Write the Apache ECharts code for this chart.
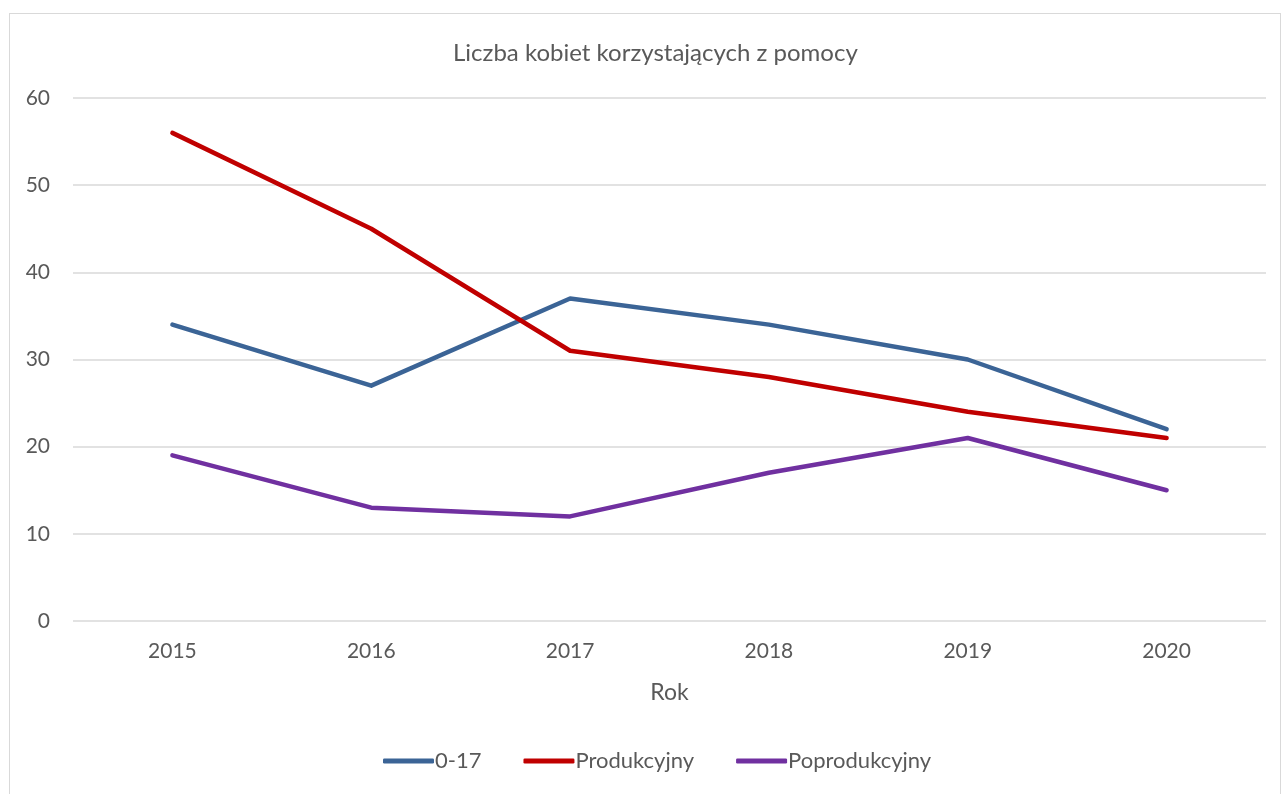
<!DOCTYPE html>
<html>
<head>
<meta charset="utf-8">
<script src="https://cdn.jsdelivr.net/npm/echarts@6/dist/echarts.min.js"></script>
<style>
  html, body { margin: 0; padding: 0; background: #fff; }
  #frame { position: absolute; left: 9px; top: 13px; width: 1272px; height: 790px; border: 1px solid #d9d9d9; box-sizing: border-box; }
  #main { width: 1285px; height: 794px; }
</style>
</head>
<body>
<div id="frame"></div>
<div id="main"></div>
<script>
const years = ['2015', '2016', '2017', '2018', '2019', '2020'];
const seriesNames = ['0-17', 'Produkcyjny', 'Poprodukcyjny'];
const age0to17 = [34, 27, 37, 34, 30, 22];
const produkcyjny = [56, 45, 31, 28, 24, 21];
const poprodukcyjny = [19, 13, 12, 17, 21, 15];
const colors = ['#3B6496', '#C00000', '#7030A0'];

const font = 'Lato, "Open Sans", sans-serif';
const chart = echarts.init(document.getElementById('main'));

function line(name, data, color) {
    return {
        name: name,
        type: 'line',
        data: data,
        symbol: 'none',
        lineStyle: { width: 4.5, color: color, cap: 'round', join: 'round' },
        itemStyle: { color: color }
    };
}

let option = {
    backgroundColor: 'transparent',
    animation: false,
    textStyle: { fontFamily: font },
    title: {
        text: 'Liczba kobiet korzystających z pomocy',
        left: 448,
        top: 36,
        textStyle: { fontFamily: font, fontSize: 24, fontWeight: 'normal', color: '#595959' }
    },
    legend: {
        bottom: 17,
        left: 378,
        itemWidth: 51,
        itemHeight: 5,
        itemGap: 42,
        icon: 'roundRect',
        textStyle: { fontFamily: font, fontSize: 22, color: '#595959', padding: [0, 0, 0, -4] },
        data: seriesNames
    },
    grid: { left: 73, right: 19, top: 98, bottom: 173 },
    xAxis: {
        type: 'category',
        data: years,
        boundaryGap: true,
        name: 'Rok',
        nameLocation: 'middle',
        nameGap: 60,
        nameTextStyle: { fontFamily: font, fontSize: 23, color: '#595959' },
        axisLine: { show: false },
        axisTick: { show: false },
        axisLabel: { fontFamily: font, fontSize: 21, color: '#595959', margin: 20 }
    },
    yAxis: {
        type: 'value',
        min: 0,
        max: 60,
        interval: 10,
        axisLine: { show: false },
        axisTick: { show: false },
        axisLabel: { fontFamily: font, fontSize: 21, color: '#595959', margin: 23 },
        splitLine: { lineStyle: { color: '#d9d9d9', width: 1.5 } }
    },
    series: [
        line(seriesNames[0], age0to17, colors[0]),
        line(seriesNames[1], produkcyjny, colors[1]),
        line(seriesNames[2], poprodukcyjny, colors[2])
    ]
};

chart.setOption(option);
</script>
</body>
</html>
